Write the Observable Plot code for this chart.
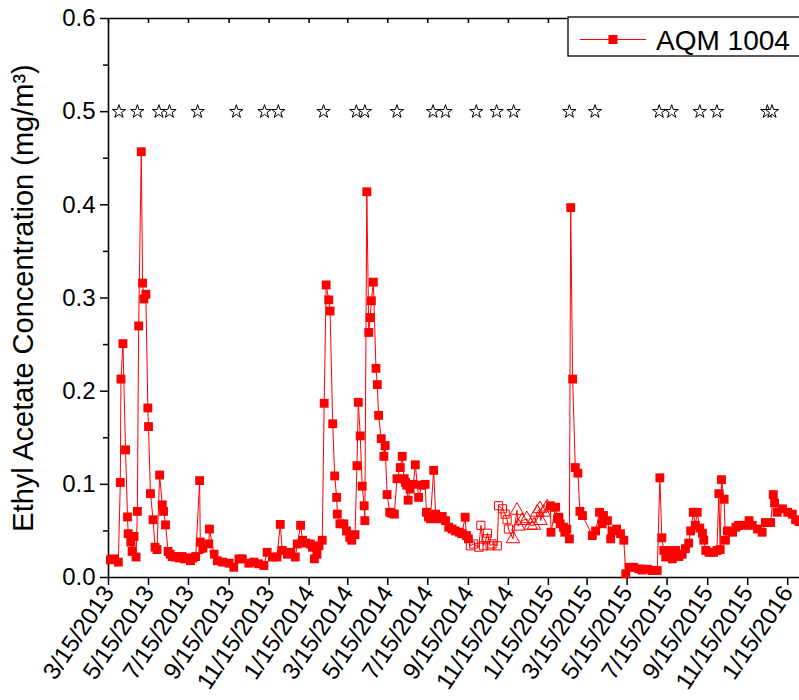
<!DOCTYPE html>
<html><head><meta charset="utf-8">
<script src="https://cdn.jsdelivr.net/npm/d3@7"></script>
<script src="https://cdn.jsdelivr.net/npm/@observablehq/plot@0.6"></script>
<style>
body{margin:0;background:#fff;}
#chart{position:relative;width:799px;height:700px;overflow:hidden;background:#fff;}
</style>
</head><body><div id="chart"></div>
<script>
// ---- data ----
const filledDates = [
"2013-03-18","2013-03-23","2013-03-30","2013-04-02","2013-04-03","2013-04-06","2013-04-10","2013-04-13","2013-04-14","2013-04-18",
"2013-04-20","2013-04-23","2013-04-26","2013-04-28","2013-04-30","2013-05-04","2013-05-06","2013-05-08","2013-05-11","2013-05-14",
"2013-05-15","2013-05-18","2013-05-22","2013-05-25","2013-05-28","2013-06-01","2013-06-05","2013-06-07","2013-06-10","2013-06-14",
"2013-06-17","2013-06-20","2013-06-24","2013-06-28","2013-07-01","2013-07-05","2013-07-09","2013-07-13","2013-07-18","2013-07-22",
"2013-07-26","2013-08-01","2013-08-02","2013-08-06","2013-08-15","2013-08-16","2013-08-23","2013-08-28","2013-09-05","2013-09-15",
"2013-09-22","2013-09-30","2013-10-05","2013-10-15","2013-10-23","2013-10-30","2013-11-07","2013-11-12","2013-11-20","2013-11-27",
"2013-12-02","2013-12-05","2013-12-13","2013-12-18","2013-12-25","2013-12-28","2014-01-02","2014-01-05","2014-01-10","2014-01-17",
"2014-01-20","2014-01-23","2014-01-27","2014-01-30","2014-02-04","2014-02-07","2014-02-10","2014-02-14","2014-02-16","2014-02-20",
"2014-02-23","2014-02-26","2014-02-27","2014-03-03","2014-03-09","2014-03-13","2014-03-18","2014-03-21","2014-03-26","2014-03-29",
"2014-03-31","2014-04-03","2014-04-06","2014-04-09","2014-04-10","2014-04-13","2014-04-16","2014-04-18","2014-04-20","2014-04-23",
"2014-04-27","2014-04-29","2014-05-01","2014-05-05","2014-05-09","2014-05-11","2014-05-14","2014-05-18","2014-05-21","2014-05-25",
"2014-05-29","2014-06-03","2014-06-06","2014-06-09","2014-06-11","2014-06-13","2014-06-15","2014-06-18","2014-06-23","2014-06-26",
"2014-07-01","2014-07-06","2014-07-11","2014-07-13","2014-07-16","2014-07-19","2014-07-24","2014-07-27","2014-08-01","2014-08-06",
"2014-08-11","2014-08-16","2014-08-21","2014-08-26","2014-09-01","2014-09-05","2014-09-10","2014-09-12","2014-09-15",
"2015-01-18","2015-01-19","2015-01-26","2015-01-29","2015-01-31","2015-02-02","2015-02-07","2015-02-09","2015-02-12","2015-02-16",
"2015-02-18","2015-02-21","2015-02-25","2015-03-01","2015-03-04","2015-03-08","2015-03-23","2015-03-28","2015-04-03","2015-04-07",
"2015-04-09","2015-04-15","2015-04-20","2015-04-22","2015-04-29","2015-05-05","2015-05-10","2015-05-13","2015-05-18","2015-05-25",
"2015-06-02","2015-06-07","2015-06-15","2015-06-22","2015-06-30","2015-07-04","2015-07-07","2015-07-10","2015-07-13","2015-07-18",
"2015-07-23","2015-07-28","2015-08-02","2015-08-07","2015-08-12","2015-08-17","2015-08-20","2015-08-24","2015-08-27","2015-08-30",
"2015-09-03","2015-09-07","2015-09-09","2015-09-12","2015-09-17","2015-09-24","2015-09-29","2015-10-02","2015-10-04","2015-10-06",
"2015-10-10","2015-10-12","2015-10-15","2015-10-23","2015-10-28","2015-11-01","2015-11-09","2015-11-17","2015-11-22","2015-11-30",
"2015-12-07","2015-12-12","2015-12-20","2015-12-24","2015-12-26","2015-12-30","2016-01-07","2016-01-15","2016-01-22","2016-01-27",
"2016-02-01"
];
const filledValues = [
0.019,0.020,0.0165,0.102,0.213,0.251,0.137,0.065,0.047,0.038,
0.028,0.044,0.022,0.071,0.270,0.457,0.316,0.299,0.304,0.182,
0.162,0.090,0.062,0.0325,0.030,0.110,0.078,0.071,0.0565,0.028,
0.025,0.0225,0.022,0.0225,0.021,0.0225,0.020,0.021,0.018,0.021,
0.0225,0.104,0.038,0.030,0.036,0.052,0.025,0.018,0.0165,0.0154,
0.011,0.020,0.020,0.0154,0.0165,0.0147,0.0129,0.027,0.022,0.022,
0.057,0.029,0.025,0.027,0.022,0.036,0.056,0.040,0.037,0.036,
0.0325,0.020,0.025,0.034,0.040,0.187,0.314,0.298,0.286,0.165,
0.109,0.086,0.068,0.0576,0.0576,0.050,0.043,0.040,0.046,0.120,
0.188,0.152,0.098,0.077,0.061,0.414,0.263,0.279,0.297,0.317,
0.2245,0.207,0.174,0.149,0.130,0.1416,0.089,0.070,0.069,0.068,
0.106,0.118,0.130,0.106,0.102,0.099,0.083,0.095,0.100,0.121,
0.086,0.099,0.100,0.070,0.065,0.063,0.115,0.068,0.063,0.0655,
0.061,0.054,0.052,0.050,0.0486,0.047,0.0647,0.045,0.0415,
0.077,0.0486,0.0755,0.063,0.0647,0.0576,0.054,0.0486,0.052,0.0415,
0.397,0.213,0.118,0.112,0.071,0.0665,0.045,0.050,0.070,0.0576,
0.0665,0.061,0.0415,0.050,0.052,0.047,0.040,0.004,0.011,0.011,
0.0093,0.008,0.009,0.0075,0.0075,0.107,0.0426,0.029,0.022,0.029,
0.020,0.029,0.0225,0.025,0.031,0.037,0.050,0.070,0.056,0.070,
0.053,0.0475,0.040,0.029,0.027,0.027,0.029,0.090,0.030,0.105,
0.084,0.040,0.050,0.0486,0.054,0.056,0.056,0.061,0.056,0.052,
0.0486,0.059,0.059,0.089,0.080,0.070,0.0737,0.070,0.068,0.062,
0.060
];
const openSquareDates = ["2014-09-18","2014-09-23","2014-10-01","2014-10-04","2014-10-08","2014-10-12","2014-10-14","2014-10-18","2014-10-21","2014-10-29","2014-10-31","2014-11-06","2014-11-10","2014-11-13","2014-11-15"];
const openSquareValues = [0.034,0.036,0.0325,0.056,0.034,0.0415,0.0475,0.034,0.036,0.034,0.077,0.0737,0.068,0.062,0.052];
const openTriangleDates = ["2014-11-22","2014-11-28","2014-11-30","2014-12-06","2014-12-13","2014-12-19","2014-12-24","2014-12-29","2015-01-02","2015-01-03","2015-01-08","2015-01-13"];
const openTriangleValues = [0.0415,0.072,0.055,0.061,0.063,0.056,0.056,0.070,0.0737,0.061,0.070,0.0755];
const whiteDates = ["2013-08-11"];
const whiteValues = [0.0225];
const starDates = ["2013-03-31","2013-04-28","2013-05-31","2013-06-16","2013-07-29","2013-09-26","2013-11-08","2013-11-29",
"2014-02-06","2014-03-28","2014-04-10","2014-05-29","2014-07-23","2014-08-11","2014-09-27","2014-10-28","2014-11-23",
"2015-02-16","2015-03-27","2015-07-03","2015-07-22","2015-09-03","2015-09-29","2015-12-15","2015-12-22"];
const starLevel = 0.5;
const xTickDates = ["2013-03-15","2013-05-15","2013-07-15","2013-09-15","2013-11-15","2014-01-15","2014-03-15","2014-05-15","2014-07-15",
"2014-09-15","2014-11-15","2015-01-15","2015-03-15","2015-05-15","2015-07-15","2015-09-15","2015-11-15","2016-01-15"];
const xDomain = ["2013-03-15","2016-02-02"];
const yDomain = [0, 0.6];
const yMajorTicks = [0, 0.1, 0.2, 0.3, 0.4, 0.5, 0.6];
const yMinorTicks = [0.05, 0.15, 0.25, 0.35, 0.45, 0.55];
const yLabel = "Ethyl Acetate Concentration (mg/m\u00B3)";
const seriesName = "AQM 1004";

// ---- build rows ----
const parse = d3.utcParse("%Y-%m-%d");
const rows = (ds, vs) => ds.map((d, i) => ({date: parse(d), value: vs[i]}));
const filled = rows(filledDates, filledValues);
const openSq = rows(openSquareDates, openSquareValues);
const openTri = rows(openTriangleDates, openTriangleValues);
const white = rows(whiteDates, whiteValues);
const all = [...filled, ...openSq, ...openTri].sort((a, b) => a.date - b.date);
const stars = starDates.map(d => ({date: parse(d), value: starLevel}));
const xTicks = xTickDates.map(parse);
const font = "'Liberation Sans', Arial, sans-serif";

const plot = Plot.plot({
  width: 799, height: 700,
  marginLeft: 108, marginRight: 0, marginTop: 18, marginBottom: 123,
  style: {fontFamily: font, background: "white", color: "black", overflow: "visible"},
  x: {type: "utc", domain: xDomain.map(parse)},
  y: {domain: yDomain},
  marks: [
    Plot.axisY({ticks: yMinorTicks, tickSize: 5, fill: "none", strokeWidth: 1.5, label: null}),
    Plot.axisY({ticks: yMajorTicks, tickSize: 8, tickPadding: 5, tickFormat: d3.format(".1f"), fontSize: 24, strokeWidth: 1.5, label: null}),
    Plot.text([yLabel], {frameAnchor: "left", rotate: -90, dx: -96, lineAnchor: "top", textAnchor: "middle", fontSize: 29, text: d => d}),
    Plot.axisX({ticks: xTicks, tickSize: 8, tickPadding: 3, tickRotate: -56, tickFormat: d3.utcFormat("%-m/%-d/%Y"), fontSize: 24, strokeWidth: 1.5, label: null}),
    Plot.tickX(xTicks, {x: d => d, insetBottom: 554, strokeWidth: 1.5}),
    Plot.ruleY([yDomain[0], yDomain[1]], {strokeWidth: 1.6}),
    Plot.ruleX([parse(xDomain[0])], {strokeWidth: 1.6}),
    Plot.line(all, {x: "date", y: "value", stroke: "#ff0000", strokeWidth: 1}),
    Plot.dot(filled, {x: "date", y: "value", symbol: "square", r: 5, fill: "#ff0000"}),
    Plot.dot(openSq, {x: "date", y: "value", symbol: "square", r: 4.6, fill: "none", stroke: "#ff0000", strokeWidth: 1}),
    Plot.dot(openTri, {x: "date", y: "value", symbol: "triangle", r: 5, fill: "none", stroke: "#ff0000", strokeWidth: 1}),
    Plot.dot(white, {x: "date", y: "value", r: 4, fill: "white"}),
    Plot.dot(stars, {x: "date", y: "value", symbol: "star", r: 4.2, fill: "white", stroke: "black", strokeWidth: 1})
  ]
});

// legend drawn inside the plot area (top right)
const svg = d3.select(plot);
const lg = svg.append("g").attr("class", "legend");
lg.append("rect").attr("x", 568).attr("y", 17).attr("width", 240).attr("height", 39)
  .attr("fill", "white").attr("stroke", "black").attr("stroke-width", 1.3);
lg.append("line").attr("x1", 580).attr("x2", 646).attr("y1", 39.5).attr("y2", 39.5)
  .attr("stroke", "#ff0000").attr("stroke-width", 1);
lg.append("rect").attr("x", 608.5).attr("y", 35).attr("width", 9).attr("height", 9).attr("fill", "#ff0000");
lg.append("text").attr("x", 656).attr("y", 50).attr("font-size", 28).attr("font-family", font)
  .attr("text-anchor", "start").attr("fill", "black").text(seriesName);

document.getElementById("chart").appendChild(plot);
</script>
</body></html>
